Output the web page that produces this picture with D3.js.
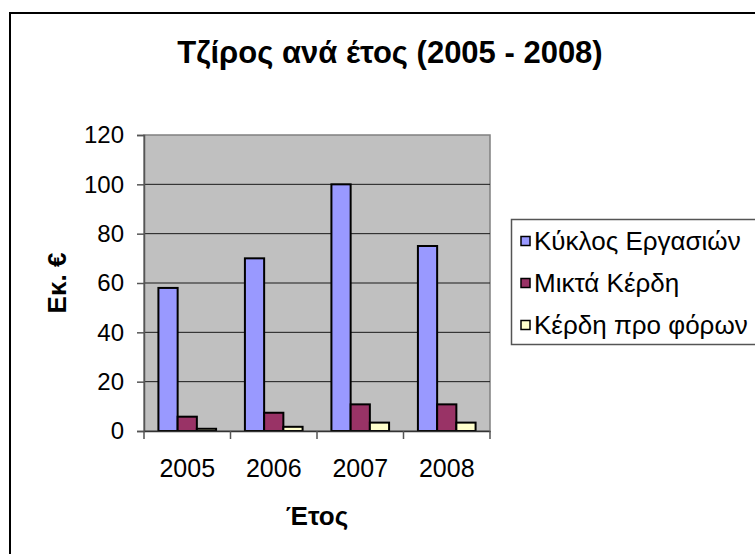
<!DOCTYPE html>
<html>
<head>
<meta charset="utf-8">
<script src="https://cdn.jsdelivr.net/npm/d3@7"></script>
<style>
  body { margin: 0; background: #fff; }
  svg { display: block; font-family: "Liberation Sans", Arial, sans-serif; }
</style>
</head>
<body>
<svg id="chart"></svg>
<script>
// === Data === //

var years = ["2005", "2006", "2007", "2008"]
var seriesNames = ["Κύκλος Εργασιών", "Μικτά Κέρδη", "Κέρδη προ φόρων"]
var kyklos = [58, 70, 100, 75]
var miktaKerdi = [5.8, 7.4, 10.8, 10.8]
var kerdiProForon = [0.9, 1.7, 3.4, 3.4]
var yTicks = [0, 20, 40, 60, 80, 100, 120]

var colors = ["#9999ff", "#993366", "#ffffcc"]

// === Set up canvas === //

var width = 755
var height = 554

var plotLeft = 144
var plotRight = 490
var plotTop = 135
var plotBottom = 431

var svg = d3.select("#chart").attr("width", width).attr("height", height)

// outer frame (right and bottom edge fall outside the picture)
svg.append("rect")
  .attr("x", 10).attr("y", 13)
  .attr("width", 780).attr("height", 580)
  .attr("fill", "#fff")
  .attr("stroke", "#000")
  .attr("stroke-width", 2)

var series = [kyklos, miktaKerdi, kerdiProForon]
var rows = years.map(function(y, i) {
  return { year: y, values: series.map(function(s) { return s[i] }) }
})

var x0 = d3.scaleBand().domain(years).range([plotLeft, plotRight]).paddingInner(0).paddingOuter(0)
// gap width 150% -> bars take 3 / 4.5 of a category
var x1 = d3.scaleBand().domain(d3.range(series.length))
  .range([x0.bandwidth() * 0.75 / 4.5, x0.bandwidth() - x0.bandwidth() * 0.75 / 4.5])
var y = d3.scaleLinear().domain([0, 120]).range([plotBottom, plotTop])

// === Plot area === //

svg.append("rect")
  .attr("x", plotLeft).attr("y", plotTop)
  .attr("width", plotRight - plotLeft).attr("height", plotBottom - plotTop)
  .attr("fill", "#c0c0c0")
  .attr("stroke", "#808080")
  .attr("stroke-width", 1.5)

svg.append("g").selectAll("line")
  .data(yTicks.filter(function(d) { return d > 0 && d < 120 }))
  .join("line")
  .attr("x1", plotLeft).attr("x2", plotRight)
  .attr("y1", function(d) { return y(d) }).attr("y2", function(d) { return y(d) })
  .attr("stroke", "#1a1a1a")
  .attr("stroke-width", 1)

// bars
svg.append("g").selectAll("g")
  .data(rows)
  .join("g")
  .attr("transform", function(d) { return "translate(" + x0(d.year) + ",0)" })
  .selectAll("rect")
  .data(function(d) { return d.values })
  .join("rect")
  .attr("x", function(d, i) { return x1(i) })
  .attr("width", x1.bandwidth())
  .attr("y", function(d) { return y(d) })
  .attr("height", function(d) { return y(0) - y(d) })
  .attr("fill", function(d, i) { return colors[i] })
  .attr("stroke", "#000")
  .attr("stroke-width", 2)

// === Axes === //

var yAxis = svg.append("g")
  .attr("transform", "translate(" + plotLeft + ",0)")
  .call(d3.axisLeft(y).tickValues(yTicks).tickSize(7).tickPadding(13))
yAxis.select(".domain").attr("stroke", "#555").attr("stroke-width", 1.5)
yAxis.selectAll(".tick line").attr("stroke", "#555").attr("stroke-width", 1.5)
yAxis.selectAll("text").attr("font-size", 24).attr("fill", "#000")
  .attr("font-family", "Liberation Sans, Arial, sans-serif")

var xAxis = svg.append("g")
  .attr("transform", "translate(0," + plotBottom + ")")
  .call(d3.axisBottom(x0).tickSize(0).tickPadding(28))
xAxis.select(".domain").attr("stroke", "#333").attr("stroke-width", 1.5)
xAxis.selectAll("text").attr("font-size", 25).attr("fill", "#000")
  .attr("font-family", "Liberation Sans, Arial, sans-serif")

// category separators below the axis
svg.append("g").selectAll("line")
  .data(years.concat(["end"]))
  .join("line")
  .attr("x1", function(d, i) { return i < years.length ? x0(d) : plotRight })
  .attr("x2", function(d, i) { return i < years.length ? x0(d) : plotRight })
  .attr("y1", plotBottom).attr("y2", plotBottom + 8)
  .attr("stroke", "#555")
  .attr("stroke-width", 1.5)

// === Titles === //

svg.append("text")
  .attr("x", 390).attr("y", 63)
  .attr("text-anchor", "middle")
  .attr("font-size", 31).attr("font-weight", "bold")
  .text("Τζίρος ανά έτος (2005 - 2008)")

svg.append("text")
  .attr("transform", "translate(66," + ((plotTop + plotBottom) / 2) + ") rotate(-90)")
  .attr("text-anchor", "middle")
  .attr("font-size", 26).attr("font-weight", "bold")
  .text("Εκ. €")

svg.append("text")
  .attr("x", (plotLeft + plotRight) / 2).attr("y", 525)
  .attr("text-anchor", "middle")
  .attr("font-size", 26).attr("font-weight", "bold")
  .text("Έτος")

// === Legend === //

var legend = svg.append("g")
legend.append("rect")
  .attr("x", 511.5).attr("y", 219.5)
  .attr("width", 300).attr("height", 125)
  .attr("fill", "#fff")
  .attr("stroke", "#555")
  .attr("stroke-width", 1.5)

var legendItems = legend.selectAll("g.item")
  .data(seriesNames)
  .join("g")
  .attr("class", "item")
  .attr("transform", function(d, i) { return "translate(521," + (241 + i * 42) + ")" })

legendItems.append("rect")
  .attr("x", 0).attr("y", -4.5)
  .attr("width", 9).attr("height", 9)
  .attr("fill", function(d, i) { return colors[i] })
  .attr("stroke", "#000")
  .attr("stroke-width", 1.5)

legendItems.append("text")
  .attr("x", 13).attr("y", 9)
  .attr("font-size", 26)
  .text(function(d) { return d })
</script>
</body>
</html>
